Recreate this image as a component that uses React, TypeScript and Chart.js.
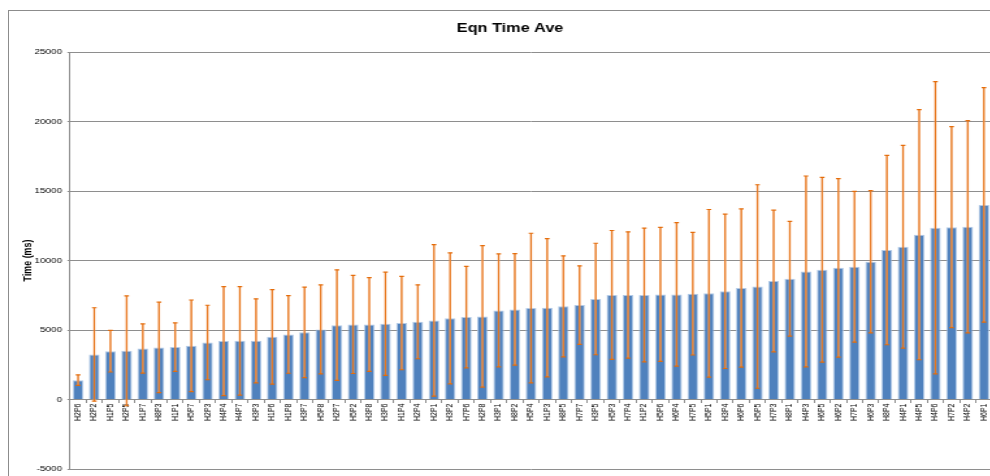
import React, { useEffect, useRef } from "react";
import { Chart, registerables } from "chart.js";

Chart.register(...registerables);

const TITLE = "Eqn Time Ave";
const Y_TITLE = "Time (ms)";

const categories = [
  "H2P6", "H2P2", "H1P5", "H2P5", "H1P7", "H8P3", "H1P1", "H5P7", "H2P3", "H4P4",
  "H4P7", "H3P3", "H1P6", "H1P8", "H3P7", "H5P8", "H2P7", "H5P2", "H3P8", "H3P6",
  "H1P4", "H2P4", "H2P1", "H3P2", "H7P6", "H2P8", "H3P1", "H8P2", "H5P4", "H1P3",
  "H8P5", "H7P7", "H3P5", "H5P3", "H7P4", "H1P2", "H5P6", "H6P4", "H7P5", "H5P1",
  "H3P4", "H6P6", "H5P5", "H7P3", "H8P1", "H4P3", "H6P5", "H6P2", "H7P1", "H6P3",
  "H8P4", "H4P1", "H4P5", "H4P6", "H7P2", "H4P2", "H6P1",
];

const meanTimes = [
  1390, 3240, 3480, 3500, 3670, 3750, 3770, 3860, 4100, 4200,
  4220, 4220, 4510, 4680, 4830, 5040, 5350, 5400, 5400, 5450,
  5500, 5590, 5690, 5840, 5930, 5980, 6410, 6480, 6580, 6600,
  6700, 6790, 7230, 7520, 7520, 7520, 7560, 7560, 7610, 7640,
  7780, 8020, 8130, 8525, 8690, 9215, 9335, 9470, 9555, 9915,
  10750, 10990, 11860, 12360, 12400, 12430, 14000,
];

const errorTimes = [
  380, 3360, 1500, 3950, 1770, 3250, 1740, 3300, 2680, 3920,
  3900, 3020, 3400, 2790, 3260, 3200, 3980, 3530, 3370, 3710,
  3360, 2660, 5450, 4710, 3650, 5090, 4060, 4010, 5380, 4970,
  3630, 2830, 4010, 4640, 4540, 4810, 4820, 5160, 4410, 6030,
  5550, 5690, 7320, 5095, 4130, 6865, 6645, 6420, 5425, 5115,
  6810, 7290, 9000, 10510, 7225, 7630, 8435,
];

const Y_MIN = -5000;
const Y_MAX = 25000;
const Y_STEP = 5000;

// horizontal stretch applied to the canvas bitmap (matches the reference's aspect)
const STRETCH = 1.3;
const BMP_W = 763;
const BMP_H = 476;
const FONT = '"Liberation Sans", Arial, sans-serif';
const GRID = "#8e8e8e";

export default function App() {
  const ref = useRef<HTMLCanvasElement | null>(null);

  useEffect(() => {
    const canvas = ref.current;
    if (!canvas) return;

    const errorBars = {
      id: "errorBars",
      afterDatasetsDraw(chart: any) {
        const { ctx, scales } = chart;
        const x = scales.x;
        const y = scales.y;
        ctx.save();
        ctx.lineCap = "butt";
        meanTimes.forEach((m: number, i: number) => {
          const px = x.getPixelForValue(i);
          const yTop = y.getPixelForValue(m + errorTimes[i]);
          const yBot = y.getPixelForValue(m - errorTimes[i]);
          ctx.strokeStyle = "rgba(244,177,131,0.9)";
          ctx.lineWidth = 1.6;
          ctx.beginPath();
          ctx.moveTo(px, yTop);
          ctx.lineTo(px, yBot);
          ctx.stroke();
          ctx.strokeStyle = "#E46C0A";
          ctx.lineWidth = 0.9;
          ctx.beginPath();
          ctx.moveTo(px, yTop);
          ctx.lineTo(px, yBot);
          ctx.stroke();
          ctx.lineWidth = 1.2;
          ctx.beginPath();
          ctx.moveTo(px - 1.8, yTop);
          ctx.lineTo(px + 1.8, yTop);
          ctx.moveTo(px - 1.8, yBot);
          ctx.lineTo(px + 1.8, yBot);
          ctx.stroke();
        });
        ctx.restore();
      },
    };

    const titlePlugin = {
      id: "customTitle",
      afterDraw(chart: any) {
        const { ctx } = chart;
        ctx.save();
        ctx.font = `bold 12.5px ${FONT}`;
        ctx.fillStyle = "#000";
        ctx.textAlign = "center";
        ctx.textBaseline = "middle";
        ctx.fillText(TITLE, 510 / STRETCH, 28.7);
        ctx.restore();
      },
    };

    const chart = new Chart(canvas, {
      type: "bar",
      data: {
        labels: categories,
        datasets: [
          {
            label: TITLE,
            data: meanTimes,
            backgroundColor: "#4F81BD",
            borderColor: "rgba(170,196,228,0.9)",
            borderWidth: 1,
            barPercentage: 0.66,
            categoryPercentage: 1,
          },
        ],
      },
      options: {
        responsive: false,
        animation: false,
        devicePixelRatio: 1,
        layout: { padding: { top: 52, bottom: 7, left: 0, right: 0 } },
        plugins: {
          legend: { display: false },
          title: { display: false },
          tooltip: { enabled: false },
        },
        scales: {
          x: {
            type: "category",
            position: { y: 0 } as any,
            offset: true,
            afterFit: (s: any) => {
              s.height = 0;
              s.paddingLeft = 0;
              s.paddingRight = 0;
            },
            grid: {
              drawOnChartArea: false,
              drawTicks: true,
              tickLength: 3,
              color: GRID,
              offset: true,
            },
            border: { display: true, color: GRID },
            ticks: {
              autoSkip: false,
              minRotation: 90,
              maxRotation: 90,
              padding: 1,
              color: "#000",
              font: { family: FONT, size: 7 },
            },
          },
          y: {
            min: Y_MIN,
            max: Y_MAX,
            afterFit: (s: any) => {
              s.width = 70 / STRETCH;
              s.paddingTop = 0;
              s.paddingBottom = 0;
            },
            grid: {
              color: GRID,
              lineWidth: 1,
              drawTicks: true,
              tickLength: 2,
            },
            border: { display: true, color: GRID },
            ticks: {
              stepSize: Y_STEP,
              padding: 4,
              color: "#000",
              font: { family: FONT, size: 7.7 },
              callback: (v: any) => String(v),
            },
            title: {
              display: true,
              text: Y_TITLE,
              color: "#000",
              font: { family: FONT, size: 8.9, weight: "bold" },
              padding: { top: 16.2, bottom: 0 },
            },
          },
        },
      },
      plugins: [errorBars, titlePlugin],
    });

    return () => {
      chart.destroy();
    };
  }, []);

  return (
    <div
      style={{
        position: "fixed",
        left: 0,
        top: 0,
        width: 990,
        height: 476,
        overflow: "hidden",
        background: "#fff",
      }}
    >
      <div
        style={{
          position: "absolute",
          left: 8,
          top: 10,
          width: 1200,
          height: 800,
          border: "1px solid #8c8c8c",
          boxSizing: "border-box",
        }}
      />
      <canvas
        ref={ref}
        width={BMP_W}
        height={BMP_H}
        style={{
          position: "absolute",
          left: 0,
          top: 0,
          width: `${BMP_W * STRETCH}px`,
          height: `${BMP_H}px`,
        }}
      />
    </div>
  );
}
